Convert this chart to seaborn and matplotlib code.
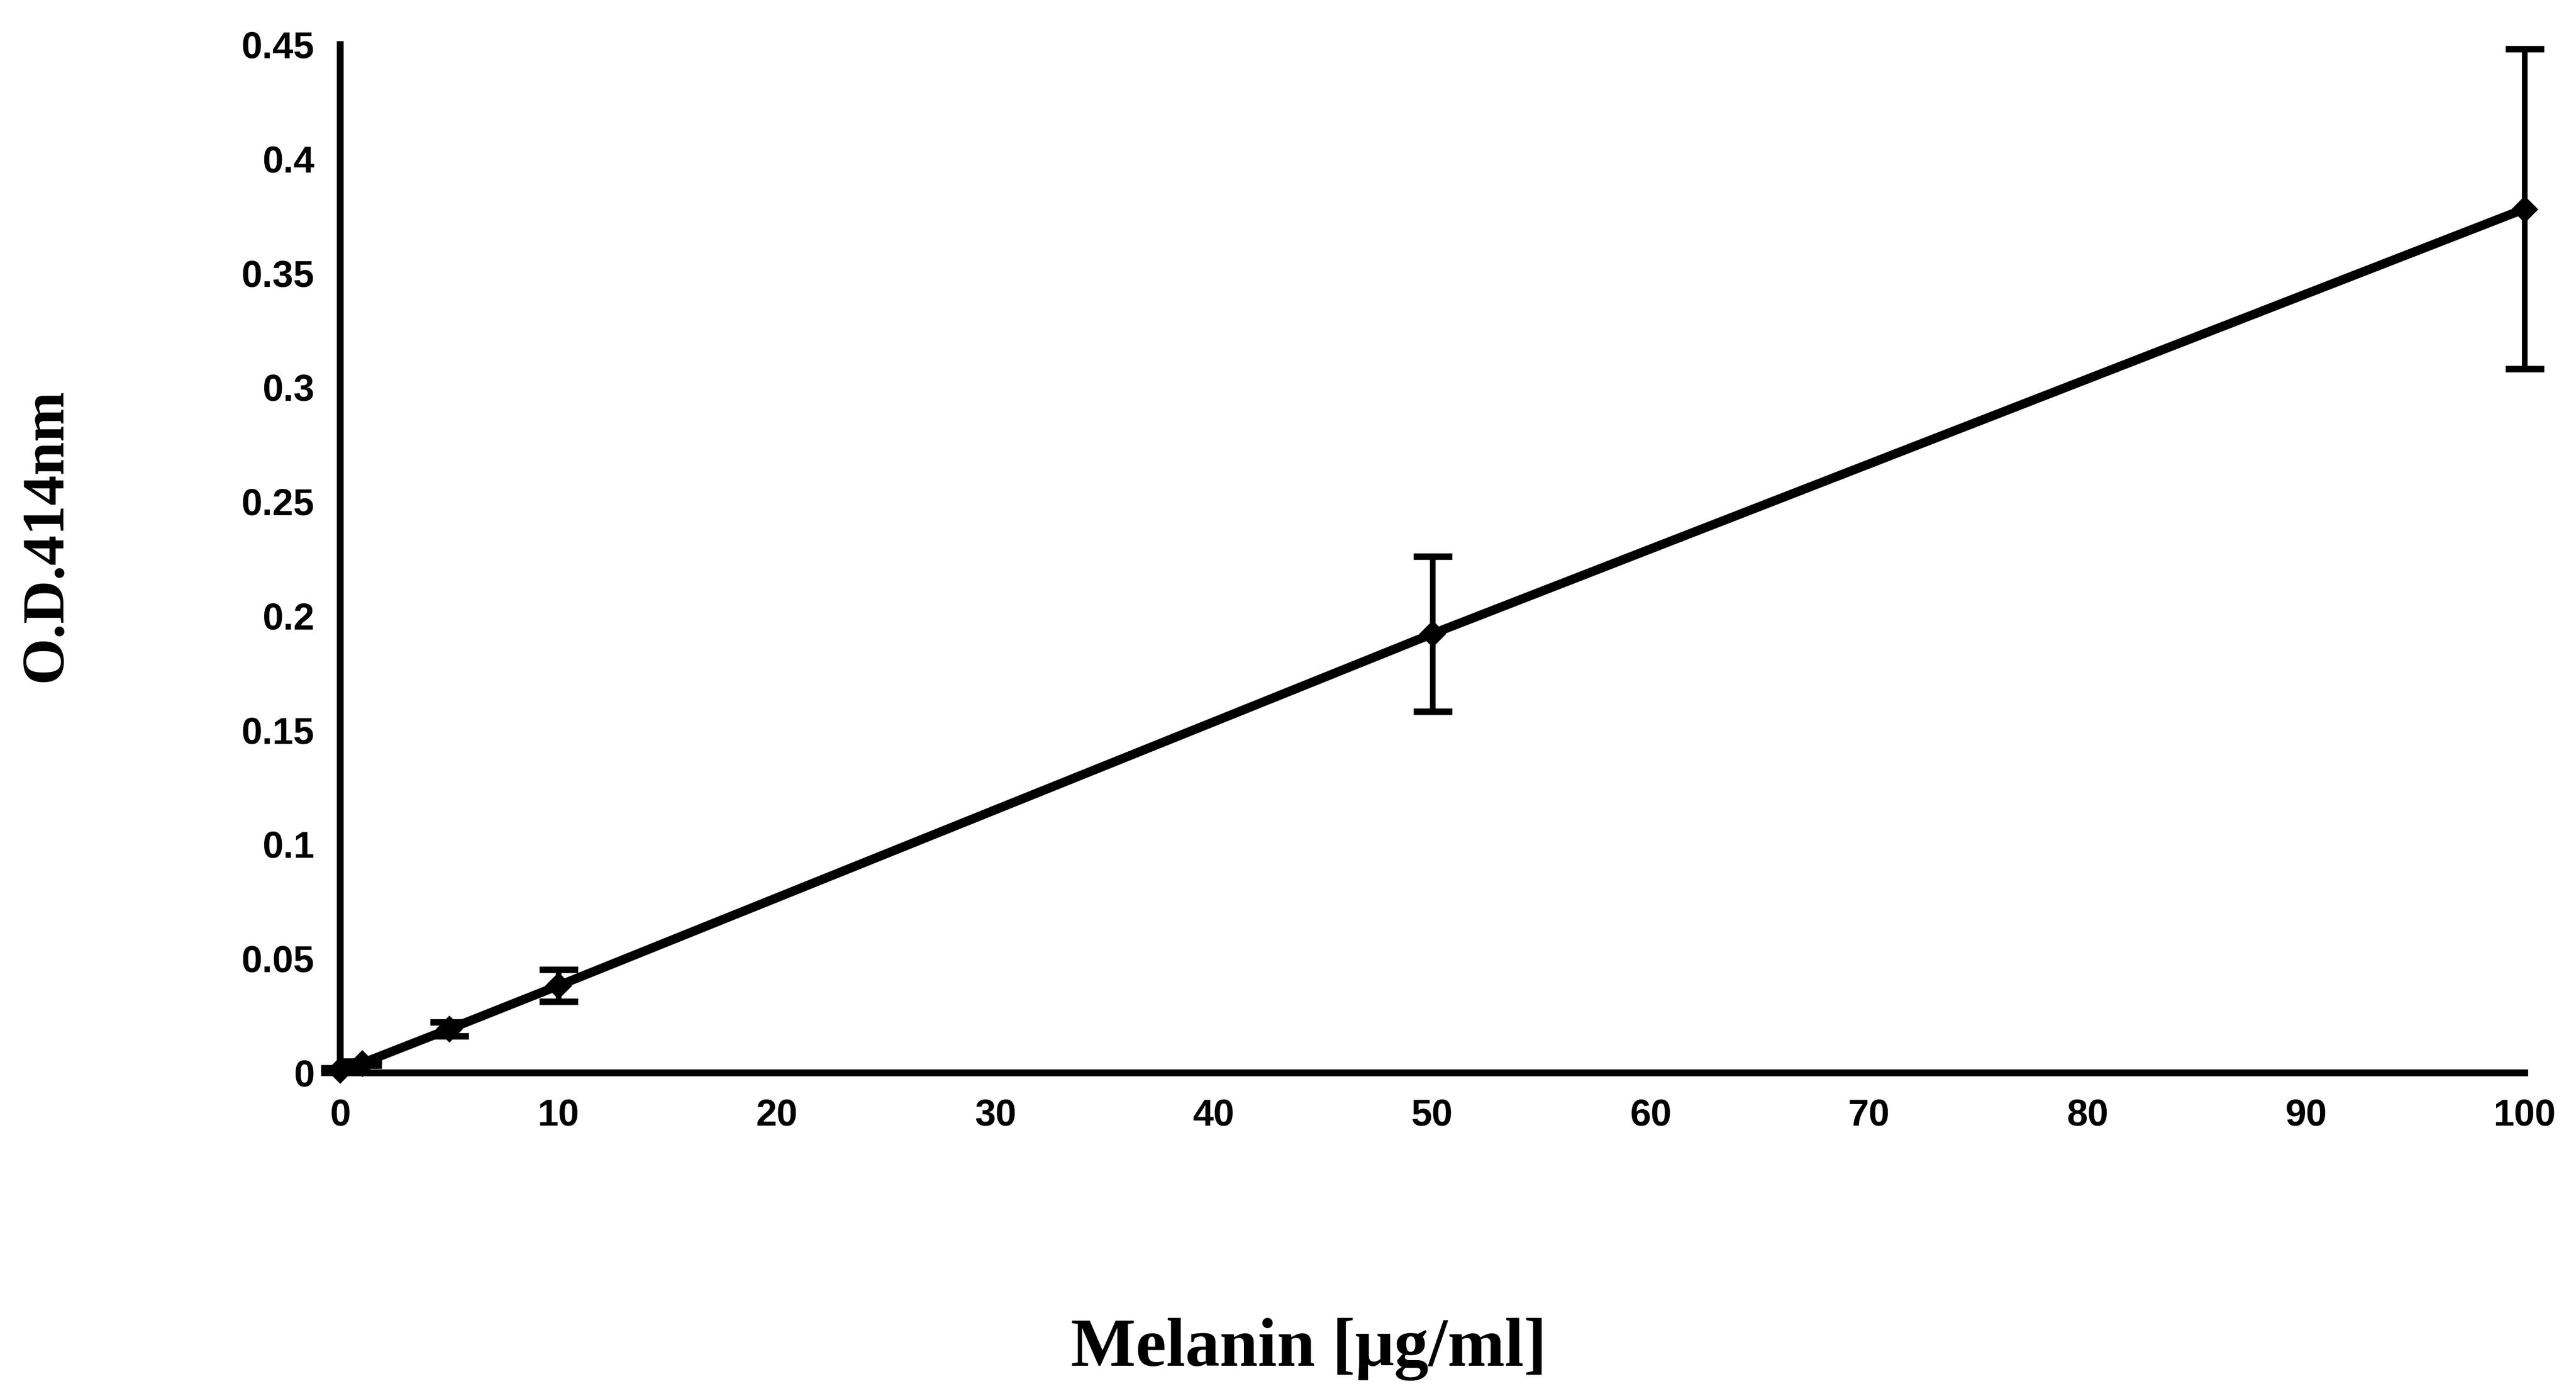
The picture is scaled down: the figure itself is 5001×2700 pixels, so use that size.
import numpy as np
import pandas as pd
import matplotlib
matplotlib.use("Agg")
import matplotlib.pyplot as plt
import seaborn as sns

# Melanin standard curve values
melanin = [0, 1, 5, 10, 50, 100]
od414 = [0.001, 0.004, 0.019, 0.038, 0.192, 0.378]
od_err = [0.001, 0.001, 0.003, 0.007, 0.034, 0.070]

x_ticks = [0, 10, 20, 30, 40, 50, 60, 70, 80, 90, 100]
y_ticks = [0, 0.05, 0.1, 0.15, 0.2, 0.25, 0.3, 0.35, 0.4, 0.45]
y_tick_labels = ["0", "0.05", "0.1", "0.15", "0.2", "0.25", "0.3", "0.35", "0.4", "0.45"]

df = pd.DataFrame({"Melanin": melanin, "OD": od414, "err": od_err})

sns.set_style("white")
plt.rcParams["font.family"] = ["Liberation Sans", "DejaVu Sans"]
plt.rcParams["text.color"] = "black"
plt.rcParams["xtick.color"] = "black"
plt.rcParams["ytick.color"] = "black"
plt.rcParams["axes.labelcolor"] = "black"

fig = plt.figure(figsize=(5001 / 300, 2700 / 300), dpi=300)
ax = fig.add_axes([0.132, 0.229, 0.848, 0.739])

# error bars first, line on top
ax.errorbar(df["Melanin"], df["OD"], yerr=df["err"], fmt="none",
            ecolor="black", elinewidth=2.6, capsize=9, capthick=3,
            clip_on=False, zorder=3)
sns.lineplot(data=df, x="Melanin", y="OD", ax=ax, color="black",
             linewidth=4.2, marker="D", markersize=8, markeredgecolor="black",
             clip_on=False, zorder=4)

ax.set_xlim(0, 100)
ax.set_ylim(0, 0.45)
ax.set_xticks(x_ticks)
ax.set_xticklabels([str(t) for t in x_ticks])
ax.set_yticks(y_ticks)
ax.set_yticklabels(y_tick_labels)

for side in ["top", "right"]:
    ax.spines[side].set_visible(False)
for side in ["left", "bottom"]:
    ax.spines[side].set_linewidth(3.2)
    ax.spines[side].set_color("black")

ax.tick_params(axis="both", direction="inout", length=12, width=3.2,
               color="black", labelcolor="black", labelsize=17.5, pad=6)
for lab in ax.get_xticklabels() + ax.get_yticklabels():
    lab.set_fontweight("bold")

ax.set_xlabel("")
ax.set_ylabel("")
fig.text(0.508, 0.03, "Melanin [μg/ml]", ha="center", va="center",
         fontsize=32, fontweight="bold", color="black",
         family=["Liberation Serif", "DejaVu Serif"])
fig.text(0.018, 0.615, "O.D.414nm", ha="center", va="center", rotation=90,
         fontsize=28, fontweight="bold", color="black",
         family=["Liberation Serif", "DejaVu Serif"])

fig.savefig("out.png", dpi=300, facecolor="white")
